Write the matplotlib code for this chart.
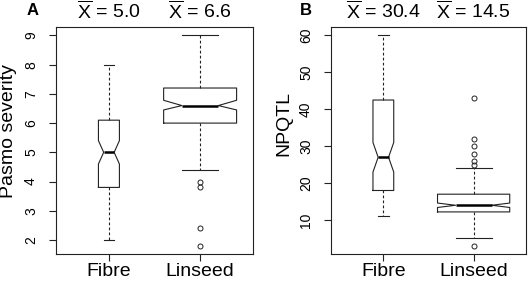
import matplotlib
matplotlib.use("Agg")
import matplotlib.pyplot as plt
import matplotlib.transforms as mtransforms

plt.rcParams["font.family"] = ["Liberation Sans", "DejaVu Sans"]
plt.rcParams["mathtext.fontset"] = "custom"
plt.rcParams["mathtext.rm"] = "Liberation Sans"

# groups
groups = ["Fibre", "Linseed"]

# panel A - pasmo severity (box stats)
pasmo_med = [5.0, 6.6]
pasmo_q1 = [3.8, 6.0]
pasmo_q3 = [6.1, 7.2]
pasmo_whislo = [2.0, 4.4]
pasmo_whishi = [8.0, 9.0]
pasmo_cilo = [4.6, 6.45]
pasmo_cihi = [5.4, 6.78]
pasmo_fliers = [[], [4.0, 3.8, 2.4, 1.8]]
pasmo_mean = [5.0, 6.6]

# panel B - NPQTL
npqtl_med = [27.0, 14.0]
npqtl_q1 = [18.0, 12.2]
npqtl_q3 = [42.5, 17.0]
npqtl_whislo = [11.0, 5.0]
npqtl_whishi = [60.0, 24.0]
npqtl_cilo = [23.0, 13.4]
npqtl_cihi = [31.0, 14.6]
npqtl_fliers = [[], [3, 25, 26, 28, 30, 32, 43]]
npqtl_mean = [30.4, 14.5]


def make_stats(med, q1, q3, lo, hi, cilo, cihi, fliers):
    out = []
    for i in range(len(groups)):
        out.append(dict(med=med[i], q1=q1[i], q3=q3[i], whislo=lo[i], whishi=hi[i],
                        cilo=cilo[i], cihi=cihi[i], fliers=fliers[i], label=groups[i]))
    return out


fig = plt.figure(figsize=(5.29, 2.81), dpi=100)
axA = fig.add_axes([0.1059, 0.095, 0.3724, 0.809])
axB = fig.add_axes([0.6257, 0.095, 0.3686, 0.809])

panels = [
    (axA, make_stats(pasmo_med, pasmo_q1, pasmo_q3, pasmo_whislo, pasmo_whishi,
                     pasmo_cilo, pasmo_cihi, pasmo_fliers), pasmo_mean, range(2, 10), "A"),
    (axB, make_stats(npqtl_med, npqtl_q1, npqtl_q3, npqtl_whislo, npqtl_whishi,
                     npqtl_cilo, npqtl_cihi, npqtl_fliers), npqtl_mean, range(10, 70, 10), "B"),
]

lc = "#222222"
for ax, stats, means, yt, letter in panels:
    ax.bxp(stats, positions=[1, 2], widths=[0.23, 0.8], shownotches=True,
           boxprops=dict(color=lc, lw=0.8),
           whiskerprops=dict(color=lc, lw=0.8, linestyle=(0, (2.5, 2))),
           capprops=dict(color=lc, lw=0.8),
           medianprops=dict(color="black", lw=1.8),
           flierprops=dict(marker="o", markersize=3.6, markerfacecolor="none",
                           markeredgecolor=lc, markeredgewidth=0.7))
    # R style axis limits (4% extension)
    allv = [s["whislo"] for s in stats] + [s["whishi"] for s in stats]
    for s in stats:
        allv += list(s["fliers"])
    lo, hi = min(allv), max(allv)
    ext = (hi - lo) * 0.04
    ax.set_ylim(lo - ext, hi + ext)
    ax.set_xlim(0.42, 2.58)
    ax.set_yticks(list(yt))
    ax.set_xticks([1, 2])
    ax.set_xticklabels(groups, fontsize=14)
    ax.tick_params(axis="y", labelrotation=90, labelsize=10, length=5, width=0.8,
                   pad=8, color=lc)
    ax.tick_params(axis="x", length=5, width=0.8, pad=1, color=lc)
    for t in ax.get_yticklabels():
        t.set_va("center")
    for sp in ax.spines.values():
        sp.set_linewidth(0.8)
        sp.set_color(lc)
    trans = mtransforms.blended_transform_factory(ax.transData, fig.transFigure)
    for i, m in enumerate(means):
        ax.text(i + 1, 0.935, r"$\overline{\mathrm{X}}$ = %.1f" % m, transform=trans,
                ha="center", va="baseline", fontsize=14)

fig.text(0.0614, 0.964, "A", fontsize=12, fontweight="bold", ha="center", va="center")
fig.text(0.5785, 0.964, "B", fontsize=12, fontweight="bold", ha="center", va="center")
fig.text(0.017, 1 - 131.5 / 281, "Pasmo severity", rotation=90, fontsize=14,
         ha="center", va="center")
fig.text(0.537, 1 - 123.5 / 281, "NPQTL", rotation=90, fontsize=14,
         ha="center", va="center")

fig.savefig("out.png", dpi=100)
